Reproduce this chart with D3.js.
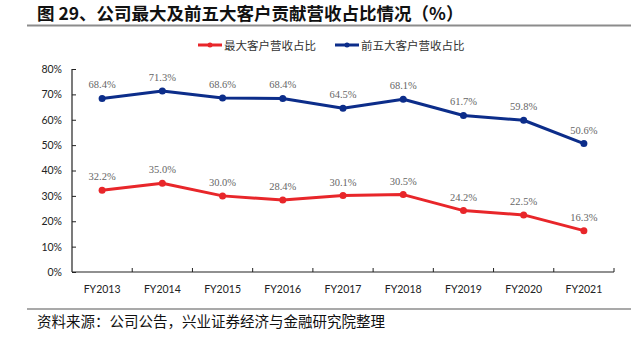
<!DOCTYPE html>
<html><head><meta charset="utf-8">
<script src="https://cdn.jsdelivr.net/npm/d3@7"></script>
<style>body{margin:0;background:#fff}svg{display:block}</style>
</head><body>
<svg id="c" width="640" height="345"></svg>
<script>
const categories = ["FY2013","FY2014","FY2015","FY2016","FY2017","FY2018","FY2019","FY2020","FY2021"];
const topCustomer = [32.2,35.0,30.0,28.4,30.1,30.5,24.2,22.5,16.3];
const topFive = [68.4,71.3,68.6,68.4,64.5,68.1,61.7,59.8,50.6];
const yTicks = [0,10,20,30,40,50,60,70,80];
const seriesNames = ["最大客户营收占比","前五大客户营收占比"];
const colors = ["#E8262A","#0C2D8A"];
const titleText = "图 29、公司最大及前五大客户贡献营收占比情况（%）";
const sourceText = "资料来源：公司公告，兴业证券经济与金融研究院整理";

const svg = d3.select("#c");
const cjk = "'Noto Sans CJK SC', sans-serif";
const latin = "Lato, 'Liberation Sans', sans-serif";

svg.append("text").attr("x",37).attr("y",19.5).attr("font-family",cjk).attr("font-weight","bold")
  .attr("font-size",17.5).attr("fill","#111").text(titleText);
svg.append("line").attr("x1",27).attr("x2",631).attr("y1",25.5).attr("y2",25.5).attr("stroke","#8c8c8c").attr("stroke-width",2);

const x = d3.scaleBand().domain(categories).range([72,614]);
const y = d3.scaleLinear().domain([0,80]).range([272,69]);

// legend
const legX = [198,335];
seriesNames.forEach((n,i)=>{
  const g = svg.append("g");
  g.append("line").attr("x1",legX[i]).attr("x2",legX[i]+24).attr("y1",45).attr("y2",45).attr("stroke",colors[i]).attr("stroke-width",3);
  g.append("circle").attr("cx",legX[i]+12).attr("cy",45).attr("r",2.5).attr("fill",colors[i]);
  g.append("text").attr("x",legX[i]+26).attr("y",49.5).attr("font-family",cjk).attr("font-size",11.5).attr("fill","#333").text(n);
});

// y axis
const yAxis = svg.append("g").attr("transform","translate(72,0)")
  .call(d3.axisRight(y).tickValues(yTicks).tickSize(4).tickFormat(d=>d+"%"));
yAxis.select(".domain").attr("stroke","#222").attr("stroke-width",1.2).attr("d","M0,69V272");
yAxis.selectAll(".tick line").attr("stroke","#222");
yAxis.selectAll(".tick text").attr("x",-10).attr("text-anchor","end").attr("font-family",latin).attr("font-size",10.5).attr("fill","#222");

// x axis
const xAxis = svg.append("g").attr("transform","translate(0,272)")
  .call(d3.axisTop(x).tickSize(0).tickFormat(""));
xAxis.select(".domain").attr("stroke","#222").attr("stroke-width",1.2).attr("d","M72,0H614");
const bounds = categories.map(c=>x(c)+x.bandwidth());
xAxis.selectAll(".btick").data(bounds).enter().append("line").attr("class","btick")
  .attr("x1",d=>d).attr("x2",d=>d).attr("y1",0).attr("y2",-4).attr("stroke","#222").attr("stroke-width",1);
svg.append("g").selectAll("text").data(categories).enter().append("text")
  .attr("x",d=>x(d)+x.bandwidth()/2).attr("y",293).attr("text-anchor","middle")
  .attr("font-family",latin).attr("font-size",10.5).attr("fill","#222").text(d=>d);

// series
const line = d3.line().x((d,i)=>x(categories[i])+x.bandwidth()/2).y(d=>y(d));
[topCustomer, topFive].forEach((data,si)=>{
  svg.append("path").datum(data).attr("d",line).attr("fill","none").attr("stroke",colors[si]).attr("stroke-width",3).attr("stroke-linejoin","round");
  svg.append("g").selectAll("circle").data(data).enter().append("circle")
    .attr("cx",(d,i)=>x(categories[i])+x.bandwidth()/2).attr("cy",d=>y(d)).attr("r",3.5).attr("fill",colors[si]);
  svg.append("g").selectAll("text").data(data).enter().append("text")
    .attr("x",(d,i)=>x(categories[i])+x.bandwidth()/2).attr("y",d=>y(d)-10)
    .attr("text-anchor","middle").attr("font-family","'Liberation Serif', serif").attr("font-size",10.5).attr("fill","#666")
    .text(d=>d.toFixed(1)+"%");
});

svg.append("line").attr("x1",27).attr("x2",631).attr("y1",309).attr("y2",309).attr("stroke","#8c8c8c").attr("stroke-width",1.5);
svg.append("text").attr("x",37).attr("y",327).attr("font-family",cjk).attr("font-size",14.5).attr("fill","#111").text(sourceText);
</script>
</body></html>
